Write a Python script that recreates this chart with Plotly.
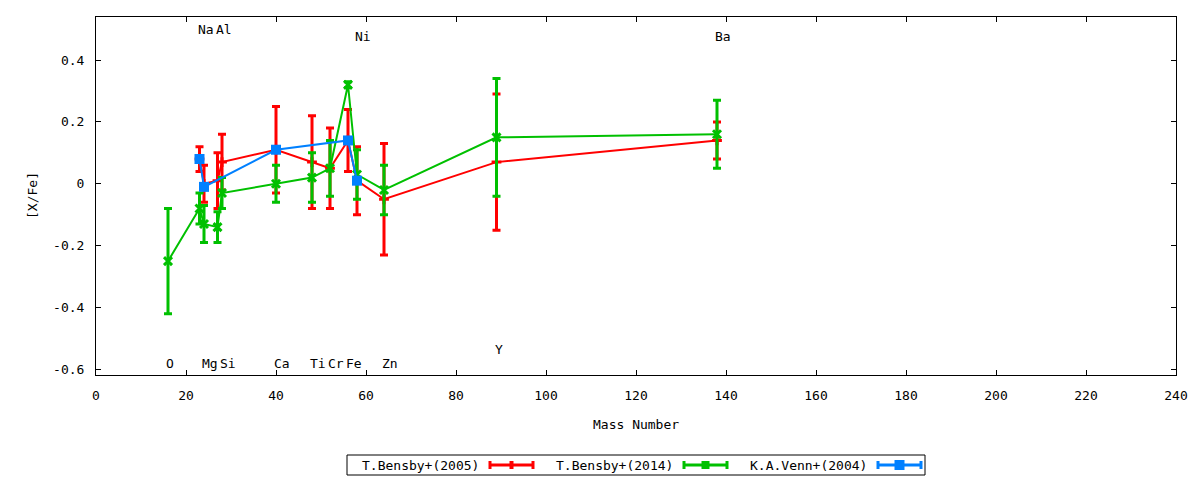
import plotly.graph_objects as go

# T.Bensby+(2005)
mass_b05 = [23, 24, 27, 28, 40, 48, 52, 56, 58, 64, 89, 138]
xfe_b05 = [0.08, 0.00, 0.01, 0.07, 0.11, 0.07, 0.05, 0.14, 0.01, -0.05, 0.07, 0.14]
err_b05 = [0.04, 0.06, 0.09, 0.09, 0.14, 0.15, 0.13, 0.10, 0.11, 0.18, 0.22, 0.06]

# T.Bensby+(2014)
mass_b14 = [16, 23, 24, 27, 28, 40, 48, 52, 56, 58, 64, 89, 138]
xfe_b14 = [-0.25, -0.08, -0.13, -0.14, -0.03, 0.00, 0.02, 0.05, 0.32, 0.03, -0.02, 0.15, 0.16]
err_b14 = [0.17, 0.05, 0.06, 0.05, 0.05, 0.06, 0.08, 0.09, 0.01, 0.08, 0.08, 0.19, 0.11]

# K.A.Venn+(2004)
mass_v04 = [23, 24, 40, 56, 58]
xfe_v04 = [0.08, -0.01, 0.11, 0.14, 0.01]

# element labels
elem_names = ["O", "Na", "Mg", "Al", "Si", "Ca", "Ti", "Cr", "Fe", "Ni", "Zn", "Y", "Ba"]
elem_mass = [16, 23, 24, 27, 28, 40, 48, 52, 56, 58, 64, 89, 138]
elem_label_y = [-0.58, 0.5, -0.58, 0.5, -0.58, -0.58, -0.58, -0.58, -0.58, 0.475, -0.58, -0.535, 0.475]

x_ticks = list(range(0, 241, 20))
y_ticks = [-0.6, -0.4, -0.2, 0, 0.2, 0.4]
y_ticktext = ["-0.6", "-0.4", "-0.2", "0", "0.2", "0.4"]

series_names = ["T.Bensby+(2005)", "T.Bensby+(2014)", "K.A.Venn+(2004)"]
RED, GREEN, BLUE = "#ff0000", "#00c000", "#0080ff"
FONT = "DejaVu Sans Mono"

fig = go.Figure()
fig.add_trace(go.Scatter(
    x=mass_b05, y=xfe_b05, mode="lines+markers", name=series_names[0],
    line=dict(color=RED, width=2),
    marker=dict(symbol="cross-thin", size=7, line=dict(color=RED, width=3)),
    error_y=dict(type="data", array=err_b05, color=RED, thickness=3, width=4),
))
fig.add_trace(go.Scatter(
    x=mass_b14, y=xfe_b14, mode="lines+markers", name=series_names[1],
    line=dict(color=GREEN, width=2),
    marker=dict(symbol="x-thin", size=8, line=dict(color=GREEN, width=3)),
    error_y=dict(type="data", array=err_b14, color=GREEN, thickness=3, width=4),
))
fig.add_trace(go.Scatter(
    x=mass_v04, y=xfe_v04, mode="lines+markers", name=series_names[2],
    line=dict(color=BLUE, width=2),
    marker=dict(symbol="square", size=10, color=BLUE),
))

for name, m, ly in zip(elem_names, elem_mass, elem_label_y):
    fig.add_annotation(x=m - 0.8, y=ly, text=name, showarrow=False,
                       xanchor="left", yanchor="middle",
                       font=dict(family=FONT, size=13, color="black"))

# the page puts the figure 8px in from the window corner,
# so the figure is 8px smaller and the margins are cut by that much
PAGE_OFF = 8
W, H = 1200 - PAGE_OFF, 480 - PAGE_OFF

# plot area in window pixels, used for the hand drawn gnuplot style key
L, R, T, B = 96, 1176, 17, 375


def px(x):
    return (x - L) / (R - L)


def py(y):
    return (B - y) / (B - T)


shapes = [dict(type="rect", xref="paper", yref="paper",
               x0=px(347), x1=px(925), y0=py(455), y1=py(475),
               line=dict(color="black", width=1))]
key_text_right = [481, 675, 869]
key_colors = [RED, GREEN, BLUE]
for name, xr, col, i in zip(series_names, key_text_right, key_colors, range(3)):
    fig.add_annotation(xref="paper", yref="paper", x=px(xr), y=py(465), text=name,
                       showarrow=False, xanchor="right", yanchor="middle",
                       font=dict(family=FONT, size=13, color="black"))
    s0, s1 = xr + 9, xr + 52
    shapes.append(dict(type="line", xref="paper", yref="paper",
                       x0=px(s0), x1=px(s1), y0=py(465), y1=py(465),
                       line=dict(color=col, width=3)))
    for sx in (s0, s1):
        shapes.append(dict(type="line", xref="paper", yref="paper",
                           x0=px(sx), x1=px(sx), y0=py(461), y1=py(469),
                           line=dict(color=col, width=3)))
    mid = (s0 + s1) / 2
    half = [2, 4, 5][i]
    shapes.append(dict(type="rect", xref="paper", yref="paper",
                       x0=px(mid - half), x1=px(mid + half),
                       y0=py(465 - [4, 4, 5][i]), y1=py(465 + [4, 4, 5][i]),
                       line=dict(width=0), fillcolor=col))

fig.add_annotation(xref="paper", yref="paper", x=0.5, y=py(425), text="Mass Number",
                   showarrow=False, xanchor="center", yanchor="middle",
                   font=dict(family=FONT, size=13, color="black"))
fig.add_annotation(xref="paper", yref="paper", x=px(32), y=0.5, text="[X/Fe]",
                   showarrow=False, xanchor="center", yanchor="middle", textangle=-90,
                   font=dict(family=FONT, size=13, color="black"))

fig.update_layout(
    width=W, height=H,
    margin=dict(l=L - PAGE_OFF, r=1200 - R, t=T - PAGE_OFF, b=480 - B),
    paper_bgcolor="white", plot_bgcolor="white",
    showlegend=False,
    font=dict(family=FONT, size=13, color="black"),
    shapes=shapes,
)
fig.update_xaxes(range=[0, 240], tickvals=x_ticks, showgrid=False, zeroline=False,
                 showline=True, linecolor="black", linewidth=1, mirror="ticks",
                 ticks="inside", ticklen=5, tickcolor="black", ticklabelstandoff=8)
fig.update_yaxes(range=[-0.618, 0.539], tickvals=y_ticks, ticktext=y_ticktext,
                 showgrid=False, zeroline=False,
                 showline=True, linecolor="black", linewidth=1, mirror="ticks",
                 ticks="inside", ticklen=5, tickcolor="black", ticklabelstandoff=8)

fig.write_html("out.html")
